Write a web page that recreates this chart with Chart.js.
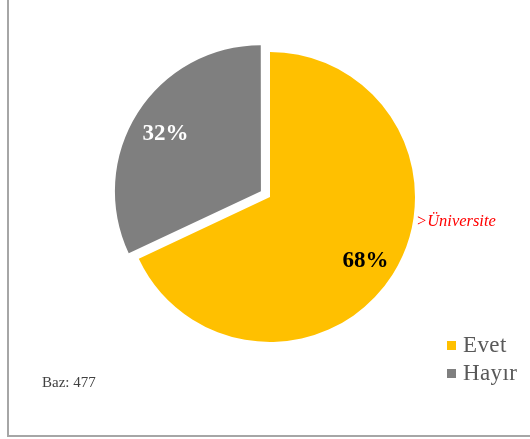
<!DOCTYPE html>
<html lang="tr">
<head>
<meta charset="utf-8">
<title>Evet / Hayır</title>
<script src="https://cdn.jsdelivr.net/npm/chart.js@4.4.1/dist/chart.umd.min.js"></script>
<style>
  html, body { margin: 0; padding: 0; background: #fff; }
  #wrap { position: relative; width: 530px; height: 439px; overflow: hidden; font-family: "Liberation Serif", "Times New Roman", serif; }
  #frame { position: absolute; left: 7px; top: -10px; width: 600px; height: 445px; border-left: 2px solid #a6a6a6; border-bottom: 2px solid #a6a6a6; }
  #pieChart { position: absolute; left: 0; top: 0; }
  #note { position: absolute; left: 416px; top: 213px; font-size: 16.5px; line-height: 16px; font-style: italic; color: #ff0000; white-space: nowrap; }
  #base { position: absolute; left: 42px; top: 375px; font-size: 15px; line-height: 15px; color: #404040; white-space: nowrap; }
  #legend { position: absolute; left: 447px; top: 331px; margin: 0; padding: 0; list-style: none; }
  #legend li { display: flex; align-items: center; height: 28px; font-size: 23px; line-height: 28px; letter-spacing: 0.4px; color: #595959; white-space: nowrap; }
  #legend span.box { display: inline-block; width: 9px; height: 9px; margin-right: 7px; position: relative; top: 0px; }
</style>
</head>
<body>
<div id="wrap">
  <div id="frame"></div>
  <canvas id="pieChart" width="530" height="439"></canvas>
  <div id="note">&gt;Üniversite</div>
  <div id="base">Baz: 477</div>
  <ul id="legend"></ul>
</div>
<script>
const categories = ['Evet', 'Hayır'];
const shares = [68, 32];
const sliceColors = ['#FFC000', '#7F7F7F'];
const labelColors = ['#000000', '#FFFFFF'];

// percentage labels inside the slices
const sliceLabels = {
    id: 'sliceLabels',
    afterDatasetsDraw(chart) {
        const ctx = chart.ctx;
        const meta = chart.getDatasetMeta(0);
        const total = shares.reduce((a, b) => a + b, 0);
        meta.data.forEach(function (arc, i) {
            const p = arc.getProps(['x', 'y', 'startAngle', 'endAngle', 'outerRadius'], true);
            const mid = (p.startAngle + p.endAngle) / 2;
            const r = p.outerRadius * 0.78 + (arc.options.offset || 0) / 4;
            ctx.save();
            ctx.font = 'bold 23px "Liberation Serif"';
            ctx.fillStyle = labelColors[i];
            ctx.textAlign = 'center';
            ctx.textBaseline = 'alphabetic';
            ctx.fillText(Math.round(shares[i] / total * 100) + '%', p.x + Math.cos(mid) * r, p.y + Math.sin(mid) * r + 9);
            ctx.restore();
        });
    }
};

const ctx = document.getElementById('pieChart').getContext('2d');
const chart = new Chart(ctx, {
    type: 'pie',
    data: {
        labels: categories,
        datasets: [{
            data: shares,
            backgroundColor: sliceColors,
            borderWidth: 0,
            offset: [0, 43],
            hoverOffset: 0
        }]
    },
    options: {
        responsive: false,
        animation: false,
        events: [],
        radius: 145,
        layout: {
            padding: { left: 10, right: 0, top: 0, bottom: 45 }
        },
        plugins: {
            legend: { display: false },
            tooltip: { enabled: false }
        }
    },
    plugins: [sliceLabels]
});

// html legend built from the chart data
const legendEl = document.getElementById('legend');
chart.data.labels.forEach(function (label, i) {
    const li = document.createElement('li');
    const box = document.createElement('span');
    box.className = 'box';
    box.style.background = sliceColors[i];
    li.appendChild(box);
    li.appendChild(document.createTextNode(label));
    legendEl.appendChild(li);
});
</script>
</body>
</html>
